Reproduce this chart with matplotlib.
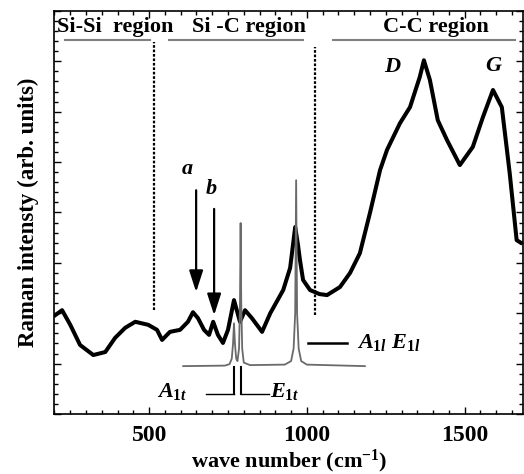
import matplotlib
matplotlib.use("Agg")
import matplotlib.pyplot as plt
from matplotlib.ticker import MultipleLocator

plt.rcParams['font.family'] = ['Liberation Serif', 'DejaVu Serif']
plt.rcParams['font.weight'] = 'bold'
plt.rcParams['mathtext.fontset'] = 'custom'
plt.rcParams['mathtext.rm'] = 'Liberation Serif:bold'
plt.rcParams['mathtext.bf'] = 'Liberation Serif:bold'
plt.rcParams['mathtext.it'] = 'Liberation Serif:bold:italic'

# measured Raman spectrum (black)
wn = [202, 224, 250, 281, 323, 361, 392, 424, 456, 497, 525, 541, 566, 598,
      623, 639, 655, 674, 690, 703, 718, 734, 750, 769, 788, 804, 826, 858,
      884, 925, 947, 963, 972, 978, 988, 1010, 1040, 1064, 1105, 1137, 1168,
      1200, 1232, 1254, 1295, 1327, 1358, 1371, 1390, 1415, 1444, 1485, 1526,
      1558, 1590, 1618, 1643, 1665, 1678]
intensity = [1.96, 2.06, 1.77, 1.37, 1.17, 1.23, 1.51, 1.71, 1.83, 1.77, 1.67,
             1.47, 1.63, 1.67, 1.83, 2.02, 1.90, 1.67, 1.57, 1.83, 1.57, 1.41,
             1.67, 2.26, 1.83, 2.06, 1.90, 1.63, 2.00, 2.46, 2.90, 3.71, 3.35,
             3.06, 2.66, 2.46, 2.38, 2.36, 2.52, 2.80, 3.19, 3.99, 4.84, 5.24,
             5.77, 6.09, 6.69, 7.02, 6.63, 5.83, 5.44, 4.94, 5.30, 5.89, 6.43,
             6.09, 4.78, 3.45, 3.40]

# calculated phonon lines (gray)
calc_wn = [608, 740, 755, 762, 766, 769, 772, 776, 780, 785, 788, 790, 792,
           795, 800, 820, 930, 950, 958, 963, 966, 969, 974, 982, 1000, 1184]
calc_int = [0.95, 0.96, 0.99, 1.10, 1.40, 1.80, 1.40, 1.10, 1.05, 1.30, 2.20,
            3.79, 2.20, 1.30, 1.02, 0.97, 0.98, 1.05, 1.30, 2.00, 4.64, 2.00,
            1.30, 1.05, 0.98, 0.95]

region_names = ['Si-Si  region', 'Si -C region', 'C-C region']
region_text_x = [392, 817, 1409]
region_spans = [(234, 503), (563, 988), (1083, 1660)]
region_bounds = [514, 1026]

fig = plt.figure(figsize=(5.24, 4.74), dpi=100)
ax = fig.add_axes([0.104, 0.1266, 0.894, 0.8504])

ax.plot(wn, intensity, color='black', lw=2.9, solid_joinstyle='round')
ax.plot(calc_wn, calc_int, color='#6a6a6a', lw=1.3)

ax.set_xlim(200, 1685)
ax.set_ylim(0, 8)

# region labels and separators
for name, tx in zip(region_names, region_text_x):
    ax.text(tx, 7.69, name, ha='center', va='center', fontsize=16, fontweight='bold')
for x0, x1 in region_spans:
    ax.plot([x0, x1], [7.42, 7.42], color='#808080', lw=1.5)
ax.plot([region_bounds[0]] * 2, [2.06, 7.38], color='black', lw=1.6, ls=(0, (1.2, 0.8)))
ax.plot([region_bounds[1]] * 2, [1.96, 7.28], color='black', lw=1.6, ls=(0, (1.2, 0.8)))

# peak markers
ax.annotate('', xy=(649, 2.42), xytext=(649, 4.44),
            arrowprops=dict(arrowstyle='-|>,head_length=1.3,head_width=0.42',
                            color='black', lw=1.6, shrinkA=0, shrinkB=0))
ax.annotate('', xy=(706, 1.96), xytext=(706, 4.07),
            arrowprops=dict(arrowstyle='-|>,head_length=1.3,head_width=0.42',
                            color='black', lw=1.6, shrinkA=0, shrinkB=0))
ax.text(622, 4.87, 'a', fontsize=16, fontstyle='italic', fontweight='bold', ha='center', va='center')
ax.text(697, 4.47, 'b', fontsize=16, fontstyle='italic', fontweight='bold', ha='center', va='center')
ax.text(1270, 6.88, 'D', fontsize=16, fontstyle='italic', fontweight='bold', ha='center', va='center')
ax.text(1590, 6.9, 'G', fontsize=16, fontstyle='italic', fontweight='bold', ha='center', va='center')

# mode assignment for the calculated lines
ax.plot([1003, 1126], [1.41, 1.41], color='black', lw=1.8)
ax.text(1160, 1.41, r'$A_{\mathit{1l}}\ E_{\mathit{1l}}$', fontsize=16, ha='left', va='center')
ax.plot([769, 769], [0.93, 0.4], color='black', lw=1.5)
ax.plot([791, 791], [0.93, 0.4], color='black', lw=1.5)
ax.plot([680, 769], [0.4, 0.4], color='black', lw=1.0)
ax.plot([791, 880], [0.4, 0.4], color='black', lw=1.0)
ax.text(526, 0.45, r'$A_{\mathit{1t}}$', fontsize=16, ha='left', va='center')
ax.text(882, 0.45, r'$E_{\mathit{1t}}$', fontsize=16, ha='left', va='center')

ax.xaxis.set_major_locator(MultipleLocator(500))
ax.xaxis.set_minor_locator(MultipleLocator(50))
ax.yaxis.set_major_locator(MultipleLocator(1))
ax.yaxis.set_minor_locator(MultipleLocator(0.2))
ax.tick_params(which='both', direction='in', top=True, right=True, width=1.0)
ax.tick_params(which='major', length=5, labelsize=17, pad=8)
ax.tick_params(which='minor', length=3)
ax.tick_params(axis='y', labelleft=False)
for lbl in ax.get_xticklabels():
    lbl.set_fontweight('bold')
for s in ax.spines.values():
    s.set_linewidth(1.2)

ax.set_xlabel(r'wave number (cm$^{\mathbf{-1}}$)', fontsize=16, fontweight='bold', labelpad=1)
ax.set_ylabel('Raman intensty (arb. units)', fontsize=16.5, fontweight='bold', labelpad=8)

fig.savefig('out.png', dpi=100)
